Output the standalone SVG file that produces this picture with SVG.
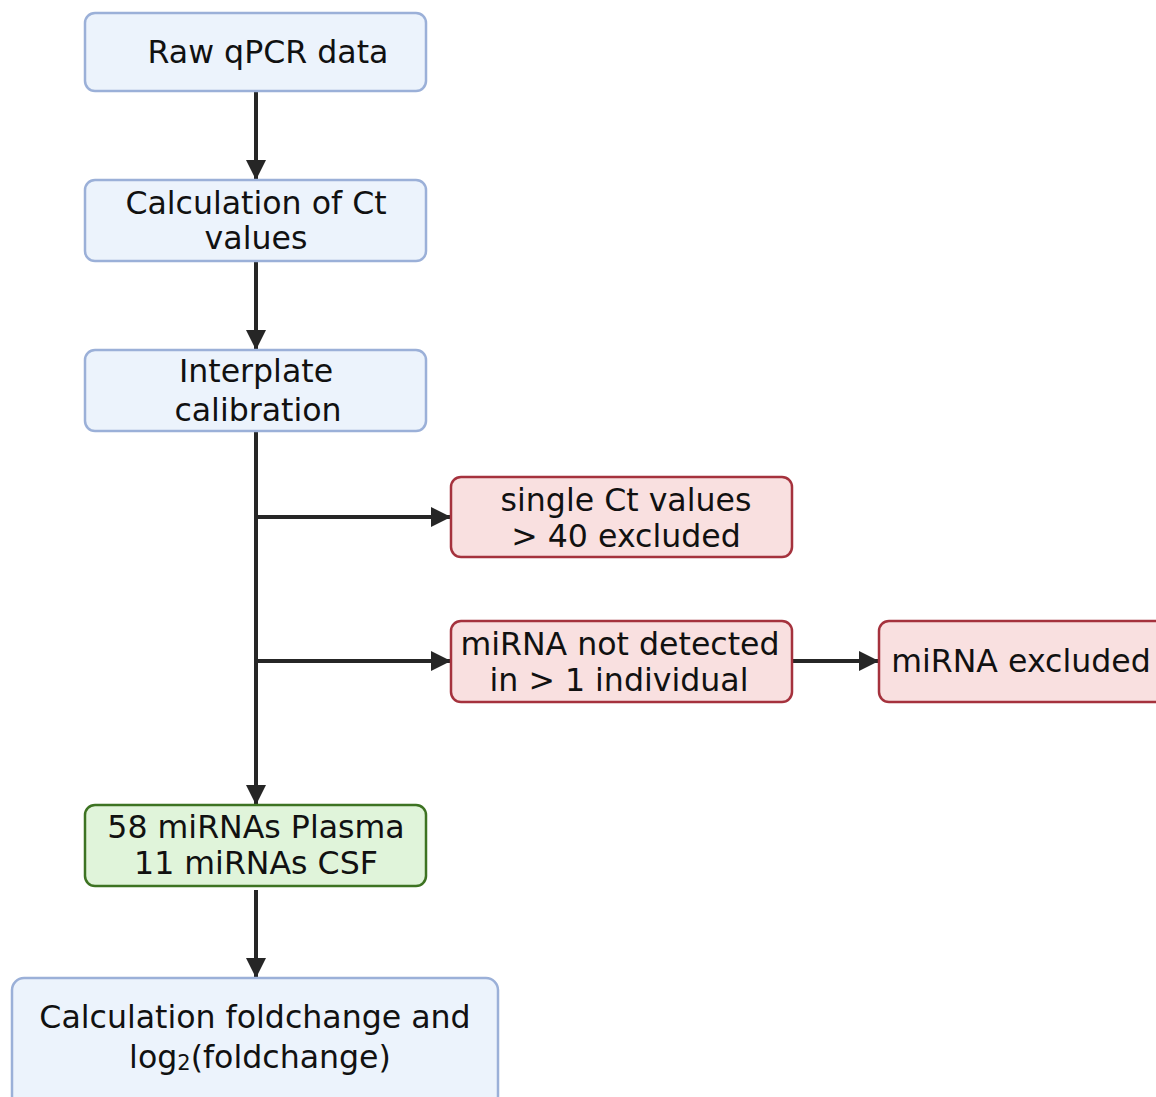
<svg xmlns="http://www.w3.org/2000/svg" width="1156" height="1097" viewBox="0 0 1156 1097">
<style>
.blue{fill:#ecf3fc;stroke:#9bb0d8;stroke-width:2.5}
.red{fill:#f9e0e0;stroke:#a5323d;stroke-width:2.5}
.green{fill:#e0f4da;stroke:#3d7322;stroke-width:2.5}
text{font-family:"DejaVu Sans",Verdana,sans-serif;font-size:31.6px;fill:#111;text-anchor:middle}
.c{fill:none;stroke:#262626;stroke-width:4}
</style>
<defs>
<marker id="a" viewBox="0 0 20 20" refX="20" refY="10" markerWidth="20" markerHeight="20" orient="auto" markerUnits="userSpaceOnUse">
<path d="M0,0 L20,10 L0,20 Z" fill="#262626"/>
</marker>
</defs>
<g id="connectors">
<path class="c" d="M256,91 V180" marker-end="url(#a)"/>
<path class="c" d="M256,261 V350" marker-end="url(#a)"/>
<path class="c" d="M256,431 V805" marker-end="url(#a)"/>
<path class="c" d="M256,517 H451" marker-end="url(#a)"/>
<path class="c" d="M256,661 H451" marker-end="url(#a)"/>
<path class="c" d="M792,661 H879" marker-end="url(#a)"/>
<path class="c" d="M256,890 V978" marker-end="url(#a)"/>
</g>
<g id="n1"><rect class="blue" x="85" y="13" width="341" height="78" rx="10"/><text x="268" y="63">Raw qPCR data</text></g>
<g id="n2"><rect class="blue" x="85" y="180" width="341" height="81" rx="10"/><text x="256" y="214">Calculation of Ct</text><text x="256" y="249">values</text></g>
<g id="n3"><rect class="blue" x="85" y="350" width="341" height="81" rx="10"/><text x="256" y="382">Interplate</text><text x="258" y="421">calibration</text></g>
<g id="n4"><rect class="red" x="451" y="477" width="341" height="80" rx="10"/><text x="626" y="511">single Ct values</text><text x="626" y="547">&gt; 40 excluded</text></g>
<g id="n5"><rect class="red" x="451" y="621" width="341" height="81" rx="10"/><text x="620" y="655">miRNA not detected</text><text x="619" y="691">in &gt; 1 individual</text></g>
<g id="n6"><rect class="red" x="879" y="621" width="290" height="81" rx="10"/><text x="1021" y="672">miRNA excluded</text></g>
<g id="n7"><rect class="green" x="85" y="805" width="341" height="81" rx="10"/><text x="256" y="838">58 miRNAs Plasma</text><text x="256" y="874">11 miRNAs CSF</text></g>
<g id="n8"><rect class="blue" x="12" y="978" width="486" height="130" rx="12"/><text x="255" y="1028">Calculation foldchange and</text><text x="260" y="1068">log<tspan font-size="21" dy="2">2</tspan><tspan dy="-2">(foldchange)</tspan></text></g>
</svg>
